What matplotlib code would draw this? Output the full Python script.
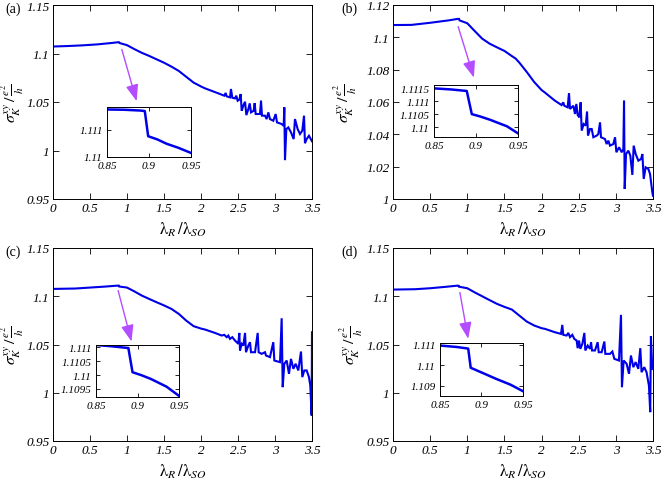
import matplotlib
matplotlib.use('Agg')
import matplotlib.pyplot as plt

plt.rcParams['mathtext.fontset'] = 'stix'
plt.rcParams['font.family'] = ['Liberation Serif', 'DejaVu Serif']

# ---------------- data ----------------
# panel (a)
xa = [0, 0.2, 0.4, 0.6, 0.8, 0.89, 0.9, 1.0, 1.1, 1.2, 1.3, 1.4, 1.5, 1.6, 1.7, 1.8, 1.9, 2.0,
      2.054, 2.234, 2.315, 2.333, 2.347, 2.392, 2.405, 2.423, 2.459, 2.477, 2.495, 2.518, 2.536,
      2.550, 2.572, 2.595, 2.613, 2.640, 2.658, 2.676, 2.712, 2.725, 2.739, 2.797, 2.811, 2.824,
      2.865, 2.887, 2.910, 2.932, 2.977, 3.009, 3.027, 3.090, 3.117, 3.126, 3.135, 3.153, 3.180,
      3.216, 3.252, 3.270, 3.306, 3.338, 3.369, 3.392, 3.405, 3.428, 3.459, 3.5]
ya = [1.1072, 1.1077, 1.1084, 1.1094, 1.1109, 1.1117, 1.1108, 1.1086, 1.1045, 1.1007, 1.0975, 1.0940,
      1.0905, 1.0865, 1.0820, 1.0760, 1.0700, 1.0660,
      1.0641, 1.0589, 1.0565, 1.0593, 1.0558, 1.0548, 1.0634, 1.0544, 1.0537, 1.0565, 1.0513, 1.0524,
      1.0582, 1.0410, 1.0462, 1.0503, 1.0365, 1.0427, 1.0486, 1.0393, 1.0410, 1.0489, 1.0376, 1.0376,
      1.0513, 1.0359, 1.0359, 1.0324, 1.0393, 1.0324, 1.0307, 1.0376, 1.0290, 1.0273, 1.0255, 1.0445,
      0.9901, 1.0221, 1.0238, 1.0187, 1.0118, 1.0324, 1.0221, 1.0170, 1.0204, 1.0359, 1.0075, 1.0118,
      1.0152, 1.0095]

# panel (b)
xb = [0, 0.25, 0.5, 0.75, 0.87, 0.889, 0.895, 1.0, 1.1, 1.2, 1.3, 1.4, 1.5, 1.6, 1.65, 1.7, 1.8, 1.9,
      2.0, 2.046, 2.180, 2.270, 2.292, 2.306, 2.351, 2.369, 2.383, 2.428, 2.450, 2.468, 2.486, 2.508,
      2.526, 2.540, 2.567, 2.594, 2.612, 2.625, 2.652, 2.675, 2.697, 2.742, 2.764, 2.787, 2.800, 2.854,
      2.876, 2.899, 2.921, 2.966, 2.989, 3.007, 3.043, 3.079, 3.101, 3.110, 3.119, 3.137, 3.168, 3.195,
      3.222, 3.240, 3.267, 3.303, 3.339, 3.357, 3.375, 3.401, 3.437, 3.460, 3.491, 3.5]
yb = [1.1076, 1.1077, 1.1090, 1.1105, 1.1114, 1.1114, 1.1105, 1.1087, 1.1039, 1.0992, 1.0961, 1.0938,
      1.0916, 1.0884, 1.0869, 1.0844, 1.0786, 1.0724, 1.0674, 1.0658, 1.0608, 1.0581, 1.0598, 1.0577,
      1.0567, 1.0655, 1.0557, 1.0577, 1.0526, 1.0588, 1.0520, 1.0505, 1.0598, 1.0423, 1.0464, 1.0454,
      1.0540, 1.0392, 1.0433, 1.0433, 1.0382, 1.0392, 1.0402, 1.0474, 1.0382, 1.0371, 1.0340, 1.0361,
      1.0330, 1.0340, 1.0382, 1.0289, 1.0320, 1.0289, 1.0309, 1.0608, 1.0062, 1.0278, 1.0299, 1.0268,
      1.0149, 1.0330, 1.0278, 1.0237, 1.0247, 1.0278, 1.0124, 1.0196, 1.0186, 1.0155, 1.0041, 1.0020]

# panel (c)
xc = [0, 0.3, 0.5, 0.7, 0.87, 0.889, 0.894, 1.0, 1.1, 1.2, 1.3, 1.4, 1.5, 1.6, 1.7, 1.8, 1.9, 2.0,
      2.054, 2.189, 2.279, 2.315, 2.347, 2.369, 2.392, 2.423, 2.459, 2.482, 2.504, 2.518, 2.527, 2.550,
      2.572, 2.595, 2.608, 2.640, 2.662, 2.676, 2.730, 2.766, 2.779, 2.820, 2.865, 2.878, 2.932, 2.977,
      2.991, 3.068, 3.090, 3.104, 3.126, 3.158, 3.189, 3.216, 3.248, 3.279, 3.315, 3.351, 3.369, 3.396,
      3.428, 3.459, 3.477, 3.495, 3.5]
yc = [1.1076, 1.1080, 1.1090, 1.1100, 1.1110, 1.1110, 1.1101, 1.1090, 1.1050, 1.1007, 1.0972, 1.0938,
      1.0905, 1.0869, 1.0817, 1.0748, 1.0690, 1.0665,
      1.0655, 1.0620, 1.0593, 1.0600, 1.0576, 1.0593, 1.0558, 1.0576, 1.0541, 1.0524, 1.0507, 1.0620,
      1.0438, 1.0507, 1.0489, 1.0620, 1.0420, 1.0489, 1.0524, 1.0420, 1.0420, 1.0620, 1.0420, 1.0403,
      1.0420, 1.0386, 1.0369, 1.0524, 1.0334, 1.0317, 1.0772, 1.0058, 1.0300, 1.0334, 1.0196, 1.0351,
      1.0248, 1.0300, 1.0231, 1.0427, 1.0162, 1.0231, 1.0231, 1.0162, 1.0075, 0.9764, 1.0627]

# panel (d)
xd = [0, 0.3, 0.5, 0.7, 0.87, 0.885, 0.888, 1.0, 1.1, 1.2, 1.3, 1.4, 1.5, 1.6, 1.7, 1.8, 1.9, 2.0,
      2.046, 2.180, 2.261, 2.279, 2.292, 2.337, 2.360, 2.383, 2.414, 2.441, 2.472, 2.486, 2.504, 2.522,
      2.549, 2.576, 2.589, 2.621, 2.652, 2.666, 2.679, 2.719, 2.755, 2.769, 2.809, 2.845, 2.858, 2.921,
      2.953, 2.980, 3.042, 3.069, 3.082, 3.105, 3.145, 3.177, 3.203, 3.235, 3.266, 3.302, 3.329, 3.346,
      3.382, 3.413, 3.445, 3.463, 3.472, 3.490, 3.5]
yd = [1.1069, 1.1073, 1.1083, 1.1097, 1.1110, 1.1108, 1.1099, 1.1083, 1.1040, 1.1000, 1.0960, 1.0921,
      1.0890, 1.0862, 1.0800, 1.0738, 1.0697, 1.0669,
      1.0662, 1.0627, 1.0610, 1.0703, 1.0600, 1.0593, 1.0620, 1.0576, 1.0600, 1.0558, 1.0541, 1.0462,
      1.0541, 1.0455, 1.0507, 1.0620, 1.0438, 1.0489, 1.0455, 1.0524, 1.0438, 1.0438, 1.0524, 1.0420,
      1.0420, 1.0531, 1.0403, 1.0403, 1.0427, 1.0351, 1.0334, 1.0807, 1.0058, 1.0334, 1.0300, 1.0196,
      1.0386, 1.0265, 1.0317, 1.0248, 1.0462, 1.0213, 1.0265, 1.0213, 1.0075, 0.9799, 1.0586, 1.0248,
      1.0245]

# insets (zoom near lambda_R/lambda_SO = 0.85 .. 0.95)
xa_in = [0.85, 0.87, 0.89, 0.895, 0.899, 0.91, 0.921, 0.935, 0.95]
ya_in = [1.11176, 1.11175, 1.11172, 1.11170, 1.11077, 1.11065, 1.11049, 1.11034, 1.11015]
xb_in = [0.85, 0.87, 0.889, 0.895, 0.905, 0.917, 0.937, 0.95]
yb_in = [1.11150, 1.11146, 1.11140, 1.11051, 1.11042, 1.11029, 1.11004, 1.10977]
xc_in = [0.85, 0.87, 0.889, 0.894, 0.905, 0.916, 0.935, 0.95]
yc_in = [1.11108, 1.11103, 1.11097, 1.11010, 1.10999, 1.10986, 1.10958, 1.10925]
xd_in = [0.85, 0.87, 0.884, 0.887, 0.90, 0.918, 0.935, 0.95]
yd_in = [1.11097, 1.11090, 1.11082, 1.10988, 1.10965, 1.10933, 1.10905, 1.10873]

main_xticks = [0, 0.5, 1, 1.5, 2, 2.5, 3, 3.5]
yticks_a = [0.95, 1, 1.05, 1.1, 1.15]
yticks_b = [1, 1.02, 1.04, 1.06, 1.08, 1.1, 1.12]
inset_xticks = [0.85, 0.9, 0.95]
inset_yticks_a = [1.11, 1.111]
inset_yticks_b = [1.11, 1.1105, 1.111, 1.1115]
inset_yticks_c = [1.1095, 1.11, 1.1105, 1.111]
inset_yticks_d = [1.109, 1.11, 1.111]
panel_labels = ['(a)', '(b)', '(c)', '(d)']

# ---------------- drawing ----------------
W, H = 661, 485
fig = plt.figure(figsize=(W / 100, H / 100), dpi=100)
BLUE = '#0000e8'
VIOLET = '#b44cff'


def fr(l, t, r, b):
    return [l / W, 1 - b / H, (r - l) / W, (b - t) / H]


def lab(v):
    return ('%g' % v)


def style(ax, xt, yt, fs, ln, pad):
    ax.set_xticks(xt)
    ax.set_xticklabels([lab(v) for v in xt], fontstyle='italic', fontsize=fs)
    ax.set_yticks(yt)
    ax.set_yticklabels([lab(v) for v in yt], fontstyle='italic', fontsize=fs)
    ax.tick_params(direction='in', top=True, right=True, length=ln, width=0.6,
                   pad=pad)
    for s in ax.spines.values():
        s.set_linewidth(0.7)


panels = [
    dict(x=xa, y=ya, yl=(0.95, 1.15), yt=yticks_a, box=(53, 6, 312, 200),
         ix=xa_in, iy=ya_in, ibox=(107, 107.5, 191, 158), iyl=(1.11, 1.11187), iyt=inset_yticks_a,
         arr=((0.93, 1.1041), (1.13, 1.0509)), lp=(5, 3), ylx=27),
    dict(x=xb, y=yb, yl=(1.0, 1.12), yt=yticks_b, box=(393, 6, 653, 200),
         ix=xb_in, iy=yb_in, ibox=(434, 86, 518, 137.5), iyl=(1.10965, 1.11163), iyt=inset_yticks_b,
         arr=((0.877, 1.1066), (1.089, 1.0751)), lp=(341, 3), ylx=360),
    dict(x=xc, y=yc, yl=(0.95, 1.15), yt=yticks_a, box=(53, 249, 312, 442),
         ix=xc_in, iy=yc_in, ibox=(96, 345.7, 179, 397.7), iyl=(1.10922, 1.11109), iyt=inset_yticks_c,
         arr=((0.88, 1.1059), (1.061, 1.0531)), lp=(5, 246), ylx=27),
    dict(x=xd, y=yd, yl=(0.95, 1.15), yt=yticks_a, box=(393, 249, 653, 442),
         ix=xd_in, iy=yd_in, ibox=(440, 344.3, 523, 396.7), iyl=(1.10851, 1.11108), iyt=inset_yticks_d,
         arr=((0.90, 1.104), (1.012, 1.0559)), lp=(341, 246), ylx=366),
]

for p, plabel in zip(panels, panel_labels):
    l, t, r, b = p['box']
    ax = fig.add_axes(fr(l, t, r, b))
    ax.plot(p['x'], p['y'], color=BLUE, lw=1.5, solid_joinstyle='miter')
    ax.set_xlim(0, 3.5)
    ax.set_ylim(*p['yl'])
    style(ax, main_xticks, p['yt'], 9.5, 4, 2.5)
    ax.set_xlabel(r'$\mathrm{\lambda}_R\,/\mathrm{\lambda}_{SO}$', fontsize=12, labelpad=4)
    ax.set_ylabel(r'$\sigma_K^{xy}\,/\,\frac{e^2}{h}$', fontsize=11.5)
    ax.yaxis.set_label_coords((p['ylx'] - l) / (r - l), 0.5)
    (x0, y0), (x1, y1) = p['arr']
    ax.annotate('', xy=(x1, y1), xytext=(x0, y0),
                arrowprops=dict(arrowstyle='-|>,head_length=1.0,head_width=0.38',
                                color=VIOLET, lw=1.0, shrinkA=0, shrinkB=0))
    fig.text(p['lp'][0] / W, 1 - p['lp'][1] / H, plabel, fontsize=10, va='top', ha='left')

    ia = fig.add_axes(fr(*p['ibox']))
    ia.plot(p['ix'], p['iy'], color=BLUE, lw=1.8)
    ia.set_xlim(0.85, 0.95)
    ia.set_ylim(*p['iyl'])
    style(ia, inset_xticks, p['iyt'], 8, 3, 3)

fig.savefig('out.png', dpi=100)
